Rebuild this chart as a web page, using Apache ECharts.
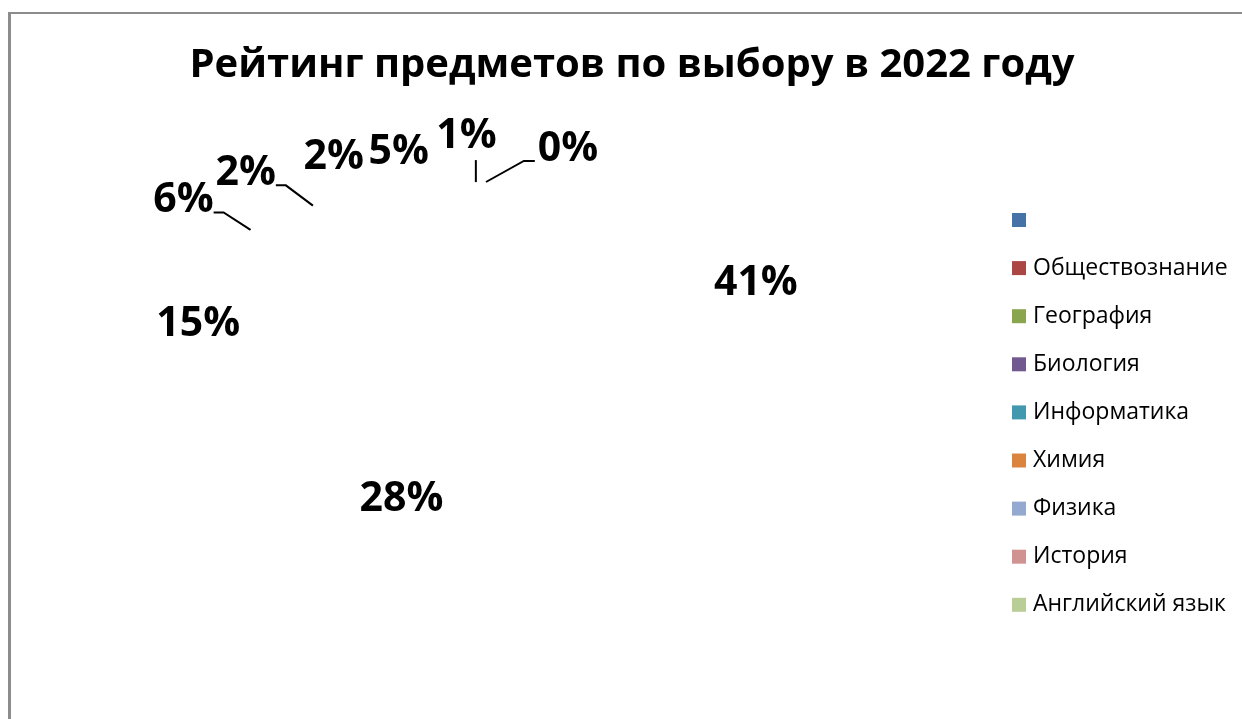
<!DOCTYPE html>
<html>
<head>
<meta charset="utf-8">
<script src="https://cdn.jsdelivr.net/npm/echarts@6/dist/echarts.min.js"></script>
<style>
  html, body { margin: 0; padding: 0; background: #fff; }
  #frame { position: absolute; left: 8px; top: 12px; width: 1300px; height: 800px;
           border-left: 3px solid #8c8c8c; border-top: 2px solid #8c8c8c; box-sizing: border-box; }
  #chart { position: absolute; left: 0; top: 0; width: 1242px; height: 719px; }
</style>
</head>
<body>
<div id="frame"></div>
<div id="chart"></div>
<script>
// ---- data ----
const titleText = 'Рейтинг предметов по выбору в 2022 году';
const subjects = [' ', 'Обществознание', 'География', 'Биология', 'Информатика', 'Химия', 'Физика', 'История', 'Английский язык'];
const shares = [0, 41, 28, 15, 6, 2, 2, 5, 1];   // percent

// ---- styling ----
const colors = ['#4572A7', '#AA4643', '#89A54E', '#71588F', '#4198AF', '#DB843D', '#93A9CF', '#D19392', '#B9CD96'];
const withLeader = [true, false, false, false, true, true, false, false, true];
const labelNudge = [[82, 10], [1, -2], [2, -1], [-9, 7], [-11, 0], [-26, 4], [18, 0], [0, 9], [-7, -3]];

const CX = 486, CY = 334;               // centre of the (tilted) pie
const EDGE = [323, 152];                 // top-face ellipse radii
const INNER = [280, 175];                // ellipse for labels inside slices
const OUTER = [400, 195];                // ellipse for labels outside slices

const total = shares.reduce((a, b) => a + b, 0);
const mids = [];
let acc = 0;
shares.forEach(v => { mids.push((acc + v / 2) / total * 2 * Math.PI); acc += v; });

const chart = echarts.init(document.getElementById('chart'), null, { renderer: 'canvas' });

const option = {
  backgroundColor: 'transparent',
  animation: false,
  title: {
    text: titleText,
    left: 632,
    top: 46,
    padding: 0,
    textAlign: 'center',
    textStyle: { fontFamily: 'Open Sans', fontWeight: 'bold', fontSize: 40, color: '#000' }
  },
  legend: {
    orient: 'vertical',
    left: 1012,
    top: 208,
    padding: 0,
    itemWidth: 14,
    itemHeight: 14,
    itemGap: 24.1,
    icon: 'rect',
    selectedMode: false,
    textStyle: { fontFamily: 'Open Sans', fontSize: 23, lineHeight: 24, color: '#000', padding: [0, 0, 0, 2] },
    data: subjects.map((n, i) => ({ name: n, itemStyle: { color: colors[i], opacity: 1, borderWidth: 0 } }))
  },
  series: [{
    type: 'pie',
    center: [CX, CY],
    radius: 152,
    startAngle: 90,
    clockwise: true,
    avoidLabelOverlap: false,
    silent: true,
    itemStyle: { opacity: 0, borderWidth: 0 },
    label: {
      show: true,
      formatter: '{c}%',
      color: '#000',
      opacity: 1,
      fontFamily: 'Open Sans',
      fontWeight: 'bold',
      fontSize: 41
    },
    labelLine: { lineStyle: { color: '#000', width: 2, opacity: 1 }, smooth: false },
    labelLayout: function (p) {
      const i = p.dataIndex;
      const t = mids[i];
      const s = Math.sin(t), c = Math.cos(t);
      const big = shares[i] >= 10;
      const R = big ? INNER : OUTER;
      const x = CX + R[0] * s + labelNudge[i][0];
      const y = CY - R[1] * c + labelNudge[i][1];
      const res = { x: x, y: y, align: 'center', verticalAlign: 'middle' };
      if (withLeader[i]) {
        const w = p.labelRect.width;
        const ex = CX + EDGE[0] * s, ey = CY - EDGE[1] * c;
        const left = x - w / 2, right = x + w / 2, bottom = y + 14;
        if (ex > left && ex < right) {
          res.labelLinePoints = [[ex, ey], [ex, bottom + 10], [ex, bottom + 10]];
        } else if (ex >= right) {
          res.labelLinePoints = [[ex, ey], [right + 10, bottom - 2], [right, bottom - 2]];
        } else {
          res.labelLinePoints = [[ex, ey], [left - 14, bottom - 2], [left - 3, bottom - 2]];
        }
      }
      return res;
    },
    data: subjects.map((n, i) => ({
      name: n,
      value: shares[i],
      itemStyle: { color: colors[i] },
      label: { position: shares[i] >= 10 ? 'inside' : 'outside' },
      labelLine: { show: withLeader[i] }
    }))
  }]
};
chart.setOption(option);
</script>
</body>
</html>
